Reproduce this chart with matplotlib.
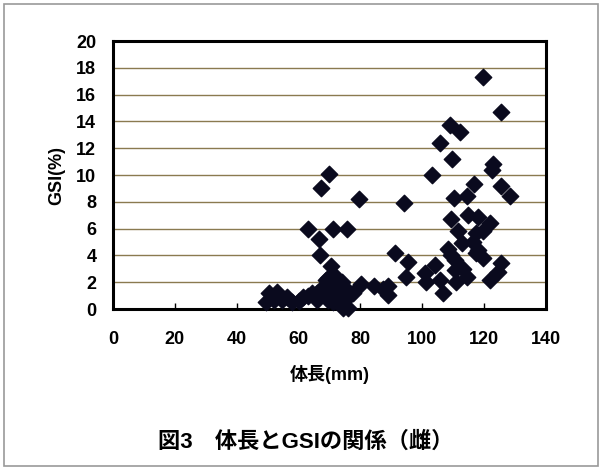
import matplotlib.pyplot as plt
from matplotlib.patches import Rectangle

plt.rcParams["font.family"] = ["Liberation Sans", "Noto Sans CJK JP", "DejaVu Sans"]
plt.rcParams["font.weight"] = "bold"

# body length (mm) and GSI (%)
body_length = [
    49.4, 50.4, 52.0, 53.1, 54.5, 56.4, 58.0, 60.0, 61.3, 63.0,
    64.5, 66.1, 67.0, 68.3, 68.8, 69.4, 69.4, 70.5, 72.1, 72.1,
    73.7, 74.3, 75.3, 75.9, 75.9, 77.5, 70.0, 71.0, 72.5, 74.0,
    71.0, 66.0, 63.2, 66.7, 67.0, 67.4, 69.7, 71.2, 75.6, 79.5,
    80.2, 84.5, 87.2, 88.9, 88.9, 91.3, 94.0, 95.4, 94.8, 100.8,
    101.3, 103.1, 104.0, 105.6, 105.6, 106.6, 108.3, 109.1, 109.4, 109.4,
    109.7, 110.2, 110.5, 110.5, 111.0, 111.6, 112.3, 112.7, 113.2, 114.3,
    114.5, 114.8, 116.5, 116.8, 117.5, 117.5, 118.0, 118.0, 119.5, 119.7,
    119.7, 121.9, 121.9, 122.4, 122.9, 124.6, 125.3, 125.6, 125.6, 128.4,
]
gsi = [
    0.55, 1.2, 0.7, 1.3, 0.7, 0.9, 0.55, 0.6, 0.9, 1.0,
    1.2, 0.7, 1.4, 1.4, 2.2, 0.7, 2.3, 3.2, 2.4, 1.2,
    0.3, 0.1, 1.5, 0.9, 0.1, 1.2, 1.0, 0.5, 1.8, 2.0,
    1.6, 1.2, 6.0, 5.2, 4.05, 9.0, 10.1, 6.0, 6.0, 8.2,
    1.9, 1.7, 1.5, 1.7, 1.05, 4.2, 7.9, 3.5, 2.4, 2.7,
    2.0, 10.0, 3.3, 12.4, 2.2, 1.2, 4.5, 13.7, 6.7, 4.0,
    11.2, 8.3, 3.65, 2.9, 2.0, 5.8, 13.2, 4.9, 3.0, 2.4,
    8.4, 7.0, 5.0, 9.3, 5.65, 4.15, 6.9, 4.4, 17.3, 5.8,
    3.8, 6.4, 2.2, 10.4, 10.8, 2.8, 9.2, 14.7, 3.4, 8.4,
]

x_ticks = [0, 20, 40, 60, 80, 100, 120, 140]
y_ticks = [0, 2, 4, 6, 8, 10, 12, 14, 16, 18, 20]

fig = plt.figure(figsize=(6.02, 4.72), dpi=100)
fig.patches.append(Rectangle((0.006, 0.012), 0.988, 0.98, transform=fig.transFigure,
                             fill=False, edgecolor="#999999", linewidth=1.2))

ax = fig.add_axes([0.1877, 0.3453, 0.7193, 0.5677])
ax.scatter(body_length, gsi, marker="D", s=70, color="#0a0a1e", zorder=3, clip_on=False)

ax.set_xlim(0, 140)
ax.set_ylim(0, 20)
ax.set_xticks(x_ticks)
ax.set_yticks(y_ticks)
ax.grid(axis="y", color="#8a7a50", linewidth=1.0)
ax.set_axisbelow(True)
ax.tick_params(axis="x", direction="in", length=4, width=1, labelsize=13, pad=16)
ax.tick_params(axis="y", length=0, labelsize=13, pad=12)
for lab in ax.get_xticklabels() + ax.get_yticklabels():
    lab.set_fontweight("bold")
for sp in ax.spines.values():
    sp.set_linewidth(2.2)

ax.set_xlabel("体長(mm)", fontsize=13, fontweight="bold", labelpad=12)
ax.set_ylabel("GSI(%)", fontsize=13, fontweight="bold", labelpad=8)

fig.text(0.508, 0.064, "図3　体長とGSIの関係（雌）", ha="center", va="center",
         fontsize=16, fontweight="bold")

fig.savefig("out.png", dpi=100)
